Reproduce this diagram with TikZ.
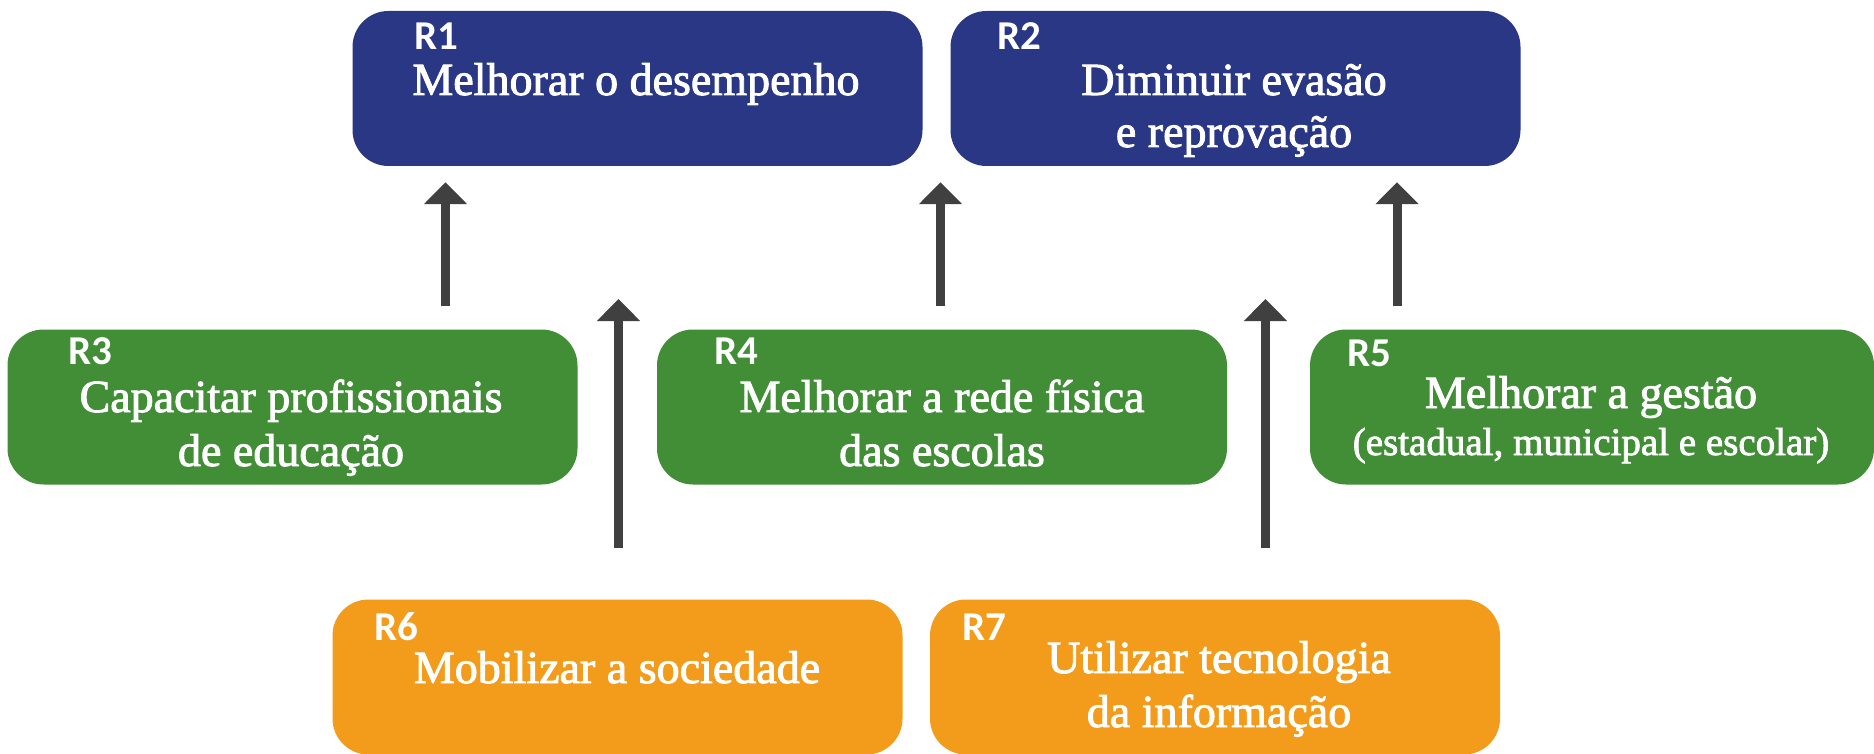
\documentclass[tikz,border=0pt]{standalone}
\usepackage{fontspec}
\setmainfont{Liberation Serif}
\newfontfamily\heavy{Liberation Serif}[FakeBold=2]
\newfontfamily\labfont{Carlito}
\usetikzlibrary{arrows.meta}
\definecolor{cblue}{RGB}{41,55,133}
\definecolor{cgreen}{RGB}{65,142,55}
\definecolor{corange}{RGB}{243,155,26}
\definecolor{carrow}{RGB}{64,64,64}
\begin{document}
\begin{tikzpicture}[x=1pt,y=-1pt,
  box/.style={rectangle, rounded corners=36pt, minimum width=570pt, minimum height=155pt, inner sep=0pt, draw=none},
  bluebox/.style={box, fill=cblue},
  greenbox/.style={box, fill=cgreen},
  orangebox/.style={box, fill=corange},
  lab/.style={anchor=base west, inner sep=0pt, text=white, font=\labfont\bfseries\fontsize{41}{41}\selectfont},
  txt/.style={anchor=base, inner sep=0pt, text=white, font=\heavy\fontsize{46}{50}\selectfont},
  smalltxt/.style={anchor=base, inner sep=0pt, text=white, font=\heavy\fontsize{39}{44}\selectfont},
  arr/.style={draw=carrow, line width=9pt, -{Triangle[width=42pt,length=22pt]}}]
\useasboundingbox (0,0) rectangle (1874,754);

% boxes
\node[bluebox] (r1) at (637.5,88.5) {};
\node[bluebox] (r2) at (1235.5,88.5) {};
\node[greenbox] (r3) at (292.5,407) {};
\node[greenbox] (r4) at (942,407) {};
\node[greenbox, minimum width=564pt] (r5) at (1592,407) {};
\node[orangebox] (r6) at (617.5,677) {};
\node[orangebox] (r7) at (1215,677) {};

% labels
\node[lab] (l1) at (414,50) {R1};
\node[lab] (l2) at (997,50) {R2};
\node[lab] (l3) at (68,364) {R3};
\node[lab] (l4) at (714,364) {R4};
\node[lab] (l5) at (1347,366) {R5};
\node[lab] (l6) at (374,640) {R6};
\node[lab] (l7) at (962,640) {R7};

% texts
\node[txt] (t1a) at (636,95) {Melhorar o desempenho};
\node[txt] (t2a) at (1234,95) {Diminuir evasão};
\node[txt] (t2b) at (1234,147) {e reprovação};
\node[txt] (t3a) at (291,412) {Capacitar profissionais};
\node[txt] (t3b) at (291,466) {de educação};
\node[txt] (t4a) at (942,412) {Melhorar a rede física};
\node[txt] (t4b) at (942,466) {das escolas};
\node[txt] (t5a) at (1591,408) {Melhorar a gestão};
\node[smalltxt] (t5b) at (1591,455) {(estadual, municipal e escolar)};
\node[txt] (t6a) at (617,683) {Mobilizar a sociedade};
\node[txt] (t7a) at (1219,673) {Utilizar tecnologia};
\node[txt] (t7b) at (1219,727) {da informação};

% arrow columns
\coordinate (c1) at (445.5,0);
\coordinate (c2) at (940.5,0);
\coordinate (c3) at (1397,0);
\coordinate (c4) at (618.5,0);
\coordinate (c5) at (1265.5,0);
\coordinate (e4) at (618.5,299);
\coordinate (e5) at (1265.5,299);

\draw[arr, shorten <=23pt, shorten >=16pt] (c1 |- r3.north) -- (c1 |- r1.south);
\draw[arr, shorten <=23pt, shorten >=16pt] (c2 |- r4.north) -- (c2 |- r1.south);
\draw[arr, shorten <=23pt, shorten >=16pt] (c3 |- r5.north) -- (c3 |- r2.south);
\draw[arr, shorten <=51pt] (c4 |- r6.north) -- (e4);
\draw[arr, shorten <=51pt] (c5 |- r7.north) -- (e5);
\end{tikzpicture}
\end{document}
